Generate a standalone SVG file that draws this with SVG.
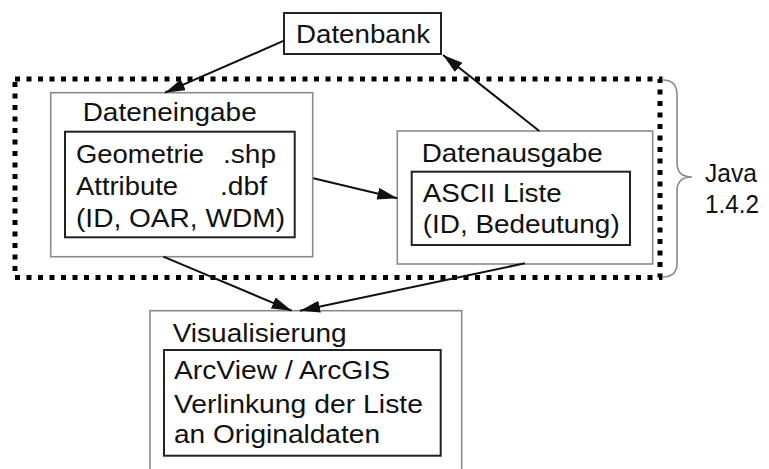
<svg xmlns="http://www.w3.org/2000/svg" width="769" height="469" viewBox="0 0 769 469">
  <style>
    text { font-family: "Liberation Sans", Arial, sans-serif; font-size: 25px; fill: #111; }
    .outer { fill: #fff; stroke: #8a8a8a; stroke-width: 1.6; }
    .inner { fill: #fff; stroke: #222; stroke-width: 2; }
    .edge { fill: none; stroke: #111; stroke-width: 2; marker-end: url(#head); }
    .frame { fill: none; stroke: #000; stroke-width: 5; stroke-dasharray: 5 6.5; }
    .brace { fill: none; stroke: #8a8a8a; stroke-width: 1.6; }
  </style>
  <defs>
    <marker id="head" markerUnits="userSpaceOnUse" markerWidth="21" markerHeight="13" refX="20" refY="6" orient="auto">
      <path d="M0,0 L20,6 L0,12 z" fill="#111"/>
    </marker>
  </defs>
  <rect width="769" height="469" fill="#fff"/>

  <!-- Java process boundary with brace -->
  <g id="java">
    <rect class="frame" x="15" y="79" width="645" height="198.5"/>
    <path class="brace" d="M663,80 Q677,80 677,95 L677,163 Q677,177 692,177 Q677,177 677,191 L677,263 Q677,277 663,277"/>
    <text x="705" y="182" textLength="52" lengthAdjust="spacingAndGlyphs">Java</text>
    <text x="705" y="213" textLength="54" lengthAdjust="spacingAndGlyphs">1.4.2</text>
  </g>

  <g id="datenbank">
    <rect class="inner" x="284" y="13" width="157" height="41"/>
    <text x="296" y="43" textLength="134" lengthAdjust="spacingAndGlyphs">Datenbank</text>
  </g>

  <g id="dateneingabe">
    <rect class="outer" x="50.7" y="92.7" width="262" height="164"/>
    <text x="82.7" y="120.7" textLength="174" lengthAdjust="spacingAndGlyphs">Dateneingabe</text>
    <rect class="inner" x="65" y="131.7" width="229.7" height="105.6"/>
    <text x="76" y="162.7" textLength="128" lengthAdjust="spacingAndGlyphs">Geometrie</text>
    <text x="223" y="162.7" textLength="53" lengthAdjust="spacingAndGlyphs">.shp</text>
    <text x="76" y="194.5" textLength="102" lengthAdjust="spacingAndGlyphs">Attribute</text>
    <text x="220" y="194.5" textLength="47" lengthAdjust="spacingAndGlyphs">.dbf</text>
    <text x="76" y="226.7" textLength="209" lengthAdjust="spacingAndGlyphs">(ID, OAR, WDM)</text>
  </g>

  <g id="datenausgabe">
    <rect class="outer" x="397.3" y="131" width="255.4" height="133"/>
    <text x="421.7" y="161.7" textLength="181" lengthAdjust="spacingAndGlyphs">Datenausgabe</text>
    <rect class="inner" x="411.7" y="171.7" width="218.3" height="73.3"/>
    <text x="422.7" y="201.7" textLength="139" lengthAdjust="spacingAndGlyphs">ASCII Liste</text>
    <text x="422.7" y="233" textLength="197" lengthAdjust="spacingAndGlyphs">(ID, Bedeutung)</text>
  </g>

  <g id="visualisierung">
    <rect class="outer" x="150" y="310.7" width="311.7" height="180"/>
    <text x="172.7" y="341.7" textLength="174" lengthAdjust="spacingAndGlyphs">Visualisierung</text>
    <rect class="inner" x="164" y="350" width="276.7" height="105.7"/>
    <text x="174" y="379" textLength="216" lengthAdjust="spacingAndGlyphs">ArcView / ArcGIS</text>
    <text x="174" y="412.7" textLength="249" lengthAdjust="spacingAndGlyphs">Verlinkung der Liste</text>
    <text x="174" y="443.3" textLength="206" lengthAdjust="spacingAndGlyphs">an Originaldaten</text>
  </g>

  <g id="connectors">
    <path class="edge" d="M284,40.7 L165,92.7"/>
    <path class="edge" d="M539.3,131 L443,55"/>
    <path class="edge" d="M313.3,178.3 L397.3,198.3"/>
    <path class="edge" d="M163.3,256.7 L291.7,310.7"/>
    <path class="edge" d="M525,263.3 L300,310.7"/>
  </g>
</svg>
